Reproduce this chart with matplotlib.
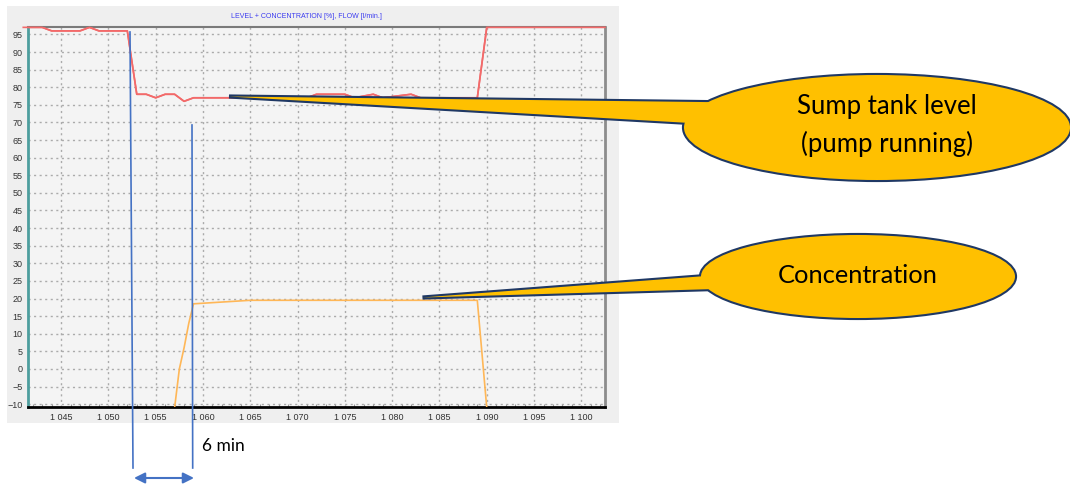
import matplotlib
matplotlib.use("Agg")
import matplotlib.pyplot as plt
from matplotlib.patches import Ellipse, Polygon, Rectangle
from matplotlib.ticker import MultipleLocator, FuncFormatter

# data (time in minutes)
level_t = [1041, 1043, 1044, 1047, 1048, 1049, 1052, 1053, 1054, 1055, 1056, 1057, 1058, 1059,
           1071, 1072, 1075, 1076, 1078, 1079, 1082, 1083, 1089, 1090, 1102.5]
level_v = [97, 97, 96, 96, 97, 96, 96, 78, 78, 77, 78, 78, 76, 77,
           77, 78, 78, 77, 78, 77, 78, 77, 77, 97, 97]

conc_t = [1057, 1057.5, 1058, 1058.5, 1059, 1062, 1065, 1089, 1090]
conc_v = [-11, 0, 6, 13, 18.5, 19, 19.5, 19.5, -11]

y_ticks = list(range(-10, 96, 5))
x_ticks = list(range(1045, 1101, 5))

title = "LEVEL + CONCENTRATION [%], FLOW [l/min.]"
W, H = 1070, 487

fig = plt.figure(figsize=(W / 100, H / 100), dpi=100)
fig.patch.set_facecolor("white")

# grey panel behind the trend
bg = fig.add_axes([0, 0, 1, 1], zorder=0)
bg.set_xlim(0, W); bg.set_ylim(H, 0); bg.axis("off")
bg.add_patch(Rectangle((7, 6), 612, 417, color="#efefef", lw=0))

ax = fig.add_axes([28 / W, 1 - 407 / H, 577 / W, 380 / H], zorder=1)
ax.set_facecolor("#f4f4f4")
ax.plot(level_t[:-1], level_v[:-1], color="#f26a6a", lw=1.2, zorder=3)
# flat top part sits on the frame, keep it visible
ax.plot(level_t, level_v, color="#f26a6a", lw=1.2, zorder=4, clip_on=False)
ax.plot(conc_t, conc_v, color="#ffb757", lw=1.2, zorder=3)

ax.set_xlim(1041.5, 1102.5)
ax.set_ylim(-10.8, 97.1)
ax.set_yticks(y_ticks)
ax.set_xticks(x_ticks)
ax.xaxis.set_minor_locator(MultipleLocator(1))
ax.xaxis.set_major_formatter(FuncFormatter(lambda v, p: "%d %03d" % (int(v) // 1000, int(v) % 1000)))
ax.tick_params(axis="both", which="major", length=0, labelsize=6.5, labelcolor="#333333", pad=4,
               labelfontfamily="Liberation Sans")
ax.tick_params(axis="x", which="minor", direction="in", length=2.5, color="#999999", width=0.8)
ax.grid(True, color="#ababab", lw=1, linestyle=(0, (1.5, 2.5)))
ax.set_axisbelow(True)
ax.spines["left"].set_color("#4d9e9e"); ax.spines["left"].set_linewidth(2)
ax.spines["bottom"].set_color("black"); ax.spines["bottom"].set_linewidth(2)
ax.spines["right"].set_color("#8c8c8c"); ax.spines["right"].set_linewidth(2)
ax.spines["top"].set_color("#7a7a7a"); ax.spines["top"].set_linewidth(1.5)

fig.text(306 / W, 1 - 16 / H, title, ha="center", va="center", fontsize=5,
         color="#3b3bf0", family="Liberation Sans")

# annotation layer in pixel coordinates
ov = fig.add_axes([0, 0, 1, 1], zorder=2)
ov.set_xlim(0, W); ov.set_ylim(H, 0); ov.axis("off")

blue = "#4472c4"
ov.plot([130, 133], [32, 468], color=blue, lw=1.2)
ov.plot([192, 192.7], [125, 468], color=blue, lw=1.2)
ov.annotate("", xy=(134, 478), xytext=(194, 478),
            arrowprops=dict(arrowstyle="<|-|>", color=blue, lw=1.5, mutation_scale=16,
                            shrinkA=0, shrinkB=0))
ov.text(202, 446, "6 min", fontsize=12.5, family="Lato", va="center", ha="left", color="black")

yellow = "#ffc000"
navy = "#1f3864"


def callout(cx, cy, w, h, wedge, label, size, dx, dy, ls):
    # two passes so only the outer outline of the union stays visible
    for lw, ec in ((3, navy), (0, "none")):
        ov.add_patch(Polygon(wedge, closed=True, fc=yellow, ec=ec, lw=lw, joinstyle="miter"))
        ov.add_patch(Ellipse((cx, cy), w, h, fc=yellow, ec=ec, lw=lw))
    ov.text(cx + dx, cy + dy, label, fontsize=size, family="Lato", ha="center", va="center",
            color="black", linespacing=ls)


callout(877, 127.5, 386, 105, [(229, 96.5), (760, 102.7), (760, 127)],
        "Sump tank level\n(pump running)", 18.5, 10, -2, 1.55)
callout(858, 276.5, 314, 83, [(422.5, 297.5), (760, 271.9), (760, 287.7)],
        "Concentration", 18.3, 0, -1, 1.2)

fig.savefig("out.png", dpi=100)
